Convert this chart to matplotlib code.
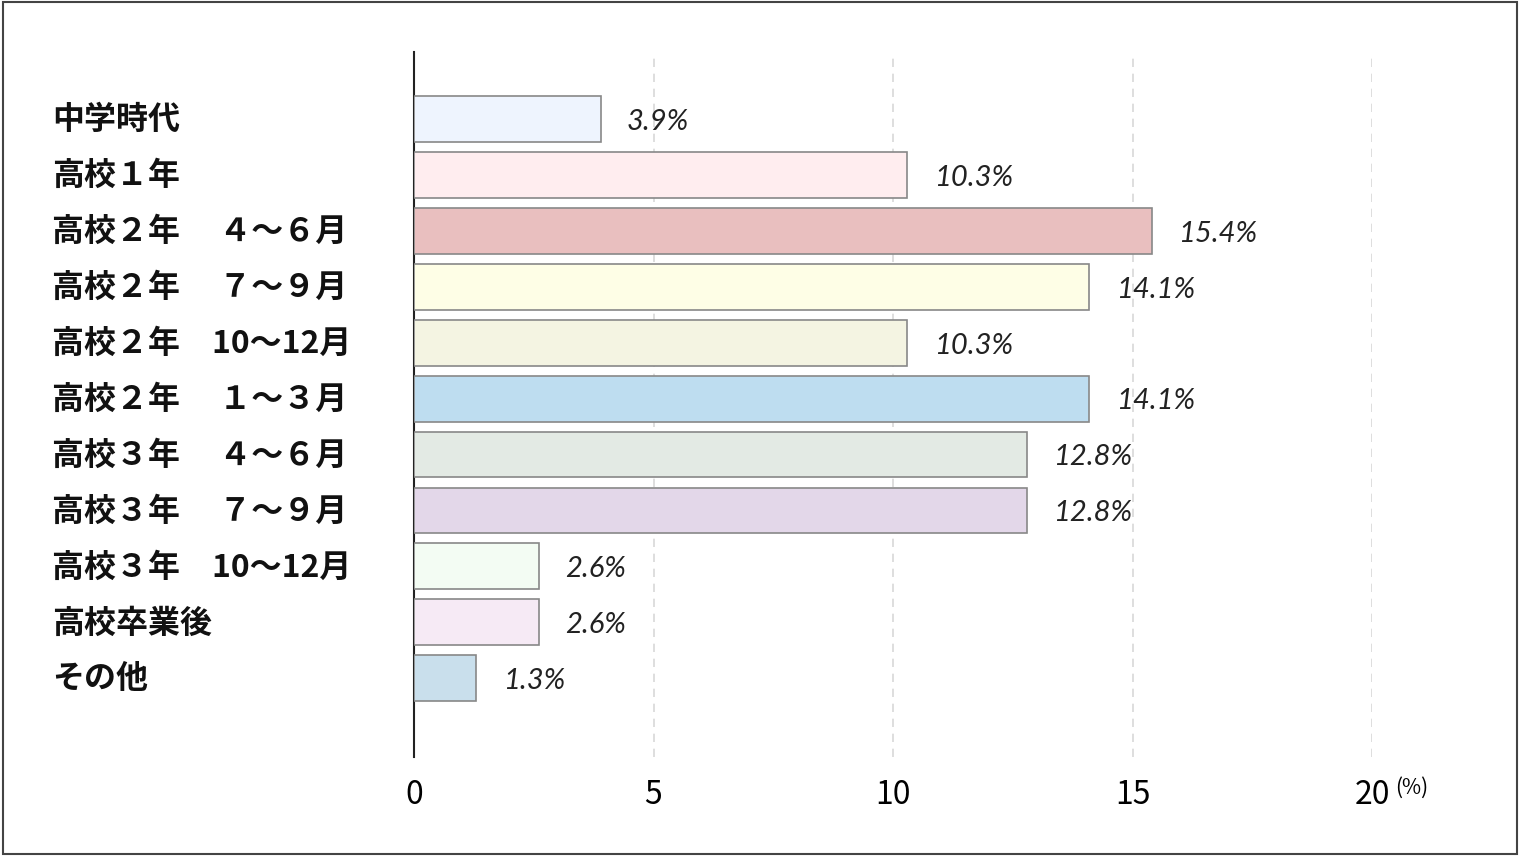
import matplotlib
matplotlib.use("Agg")
import matplotlib.pyplot as plt
from matplotlib.patches import Rectangle

categories = ["中学時代", "高校１年", "高校２年　 ４～６月", "高校２年　 ７～９月", "高校２年　10～12月",
              "高校２年　 １～３月", "高校３年　 ４～６月", "高校３年　 ７～９月", "高校３年　10～12月",
              "高校卒業後", "その他"]
values = [3.9, 10.3, 15.4, 14.1, 10.3, 14.1, 12.8, 12.8, 2.6, 2.6, 1.3]
colors = ["#EEF4FE", "#FFEDEF", "#E9BFBF", "#FEFEE6", "#F4F4E2", "#BEDDF0",
          "#E3EAE4", "#E3D7E9", "#F3FCF3", "#F6EAF5", "#C9DFEC"]
xticks = [0, 5, 10, 15, 20]

jp = "Noto Sans CJK JP"
fig = plt.figure(figsize=(15.2, 8.56), dpi=100)
fig.patches.append(Rectangle((0.002, 0.002), 0.996, 0.996, transform=fig.transFigure,
                             fill=False, edgecolor="#444444", linewidth=1.5))
ax = fig.add_axes([414/1520, 1-757/856, (1372-414)/1520, (757-52)/856])
y = list(range(len(categories)))
ax.barh(y, values, height=0.82, color=colors, edgecolor="#888888", linewidth=1.2, zorder=3)
ax.set_ylim(11.41, -1.2)
ax.set_xlim(0, 20)
for s in ["top", "right", "bottom"]:
    ax.spines[s].set_visible(False)
ax.spines["left"].set_linewidth(1.5)
ax.spines["left"].set_color("#222222")
ax.set_yticks([])
ax.set_xticks(xticks)
ax.tick_params(axis="x", length=0, pad=16, labelsize=23)
for lab in ax.get_xticklabels():
    lab.set_fontfamily(jp)
for t in xticks[1:]:
    ax.axvline(t, color="#d8d8d8", linestyle=(0, (5, 4)), linewidth=1.2, zorder=1)
for i, (v, c) in enumerate(zip(values, categories)):
    ax.text(v + 0.55, i + 0.05, f"{v}%", va="center", ha="left", fontsize=21,
            style="italic", fontfamily="Lato", color="#222222")
    ax.text(-(414-52)/47.9, i + 0.02, c, va="center", ha="left", fontsize=23,
            fontweight="bold", fontfamily=jp, color="#111111")
fig.text(1412/1520, 1-788/856, "(%)", fontsize=15, fontfamily=jp, va="center", ha="center")
fig.savefig("out.png", dpi=100)
